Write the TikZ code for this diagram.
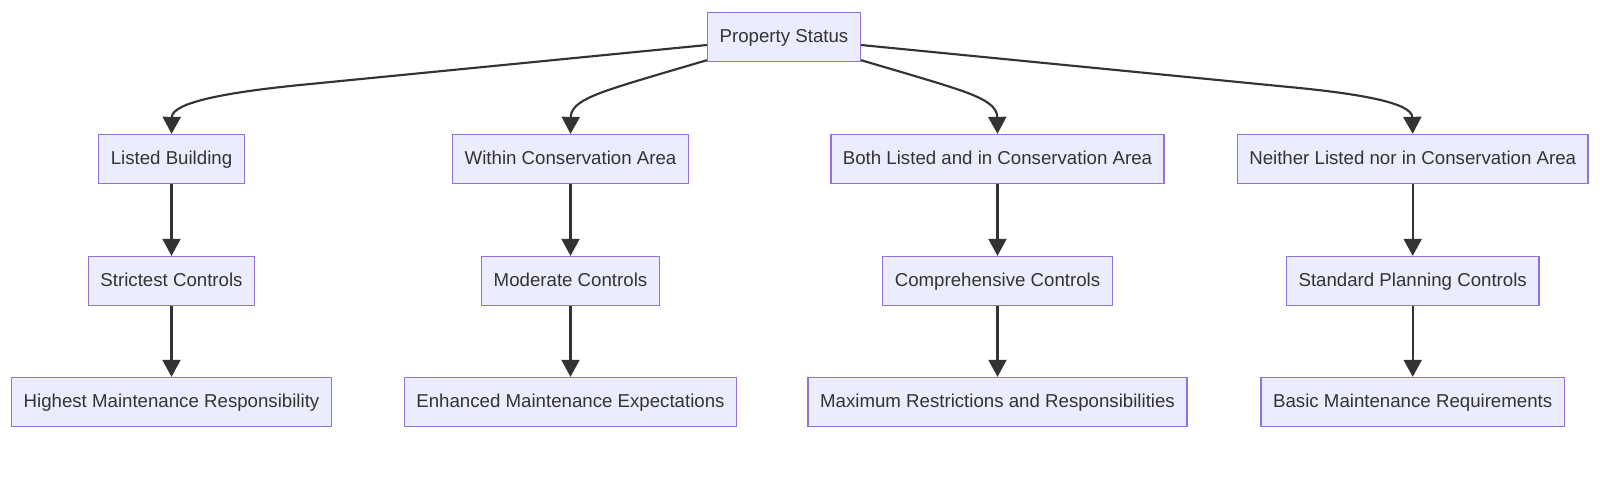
\documentclass[tikz,border=0pt]{standalone}
\usepackage{fontspec}
\setmainfont{Liberation Sans}
\usetikzlibrary{arrows.meta,calc}
\definecolor{boxfill}{HTML}{ECECFF}
\definecolor{boxline}{HTML}{9370DB}
\definecolor{edgecol}{HTML}{333333}
\definecolor{txt}{HTML}{333333}
\begin{document}
\begin{tikzpicture}[x=0.75pt,y=-0.75pt,
  box/.style={draw=boxline,fill=boxfill,line width=1pt,inner xsep=9pt,inner ysep=0pt,
    minimum height=36.75pt,text height=10.5pt,text depth=3pt,text=txt,
    font=\fontsize{14pt}{17pt}\selectfont},
  arr/.style={draw=edgecol,line width=1.6pt,-{Triangle[length=12.75pt,width=13.5pt]}}]
\useasboundingbox (0,0) rectangle (1600,500);
\fill[white] (0,0) rectangle (1600,500);
\node[box] (ps) at (784,37) {Property Status};
\node[box] (lb) at (171.5,159) {Listed Building};
\node[box] (wc) at (570.5,159) {Within Conservation Area};
\node[box] (bl) at (997.5,159) {Both Listed and in Conservation Area};
\node[box] (nl) at (1412.7,159) {Neither Listed nor in Conservation Area};
\node[box] (sc) at (171.5,281) {Strictest Controls};
\node[box] (mc) at (570.5,281) {Moderate Controls};
\node[box] (cc) at (997.5,281) {Comprehensive Controls};
\node[box] (sp) at (1412.7,281) {Standard Planning Controls};
\node[box] (hm) at (171.5,402) {Highest Maintenance Responsibility};
\node[box] (em) at (570.5,402) {Enhanced Maintenance Expectations};
\node[box] (mr) at (997.5,402) {Maximum Restrictions and Responsibilities};
\node[box] (bm) at (1412.7,402) {Basic Maintenance Requirements};
\coordinate (b1) at (300,85);
\coordinate (b2) at (660,74);
\coordinate (b3) at (908,74);
\coordinate (b4) at (1284,86.5);
\draw[arr] ($(ps.west)+(0,8)$) -- (b1) .. controls (230,92) and (172,102) .. (lb.north);
\draw[arr] ($(ps.south west)+(0,-2)$) -- (b2) .. controls (600,92) and (571,100) .. (wc.north);
\draw[arr] ($(ps.south east)+(0,-2)$) -- (b3) .. controls (968,92) and (997,100) .. (bl.north);
\draw[arr] ($(ps.east)+(0,8)$) -- (b4) .. controls (1354,93) and (1412,102) .. (nl.north);
\draw[arr] (lb) -- (sc);
\draw[arr] (wc) -- (mc);
\draw[arr] (bl) -- (cc);
\draw[arr] (nl) -- (sp);
\draw[arr] (sc) -- (hm);
\draw[arr] (mc) -- (em);
\draw[arr] (cc) -- (mr);
\draw[arr] (sp) -- (bm);
\end{tikzpicture}
\end{document}
